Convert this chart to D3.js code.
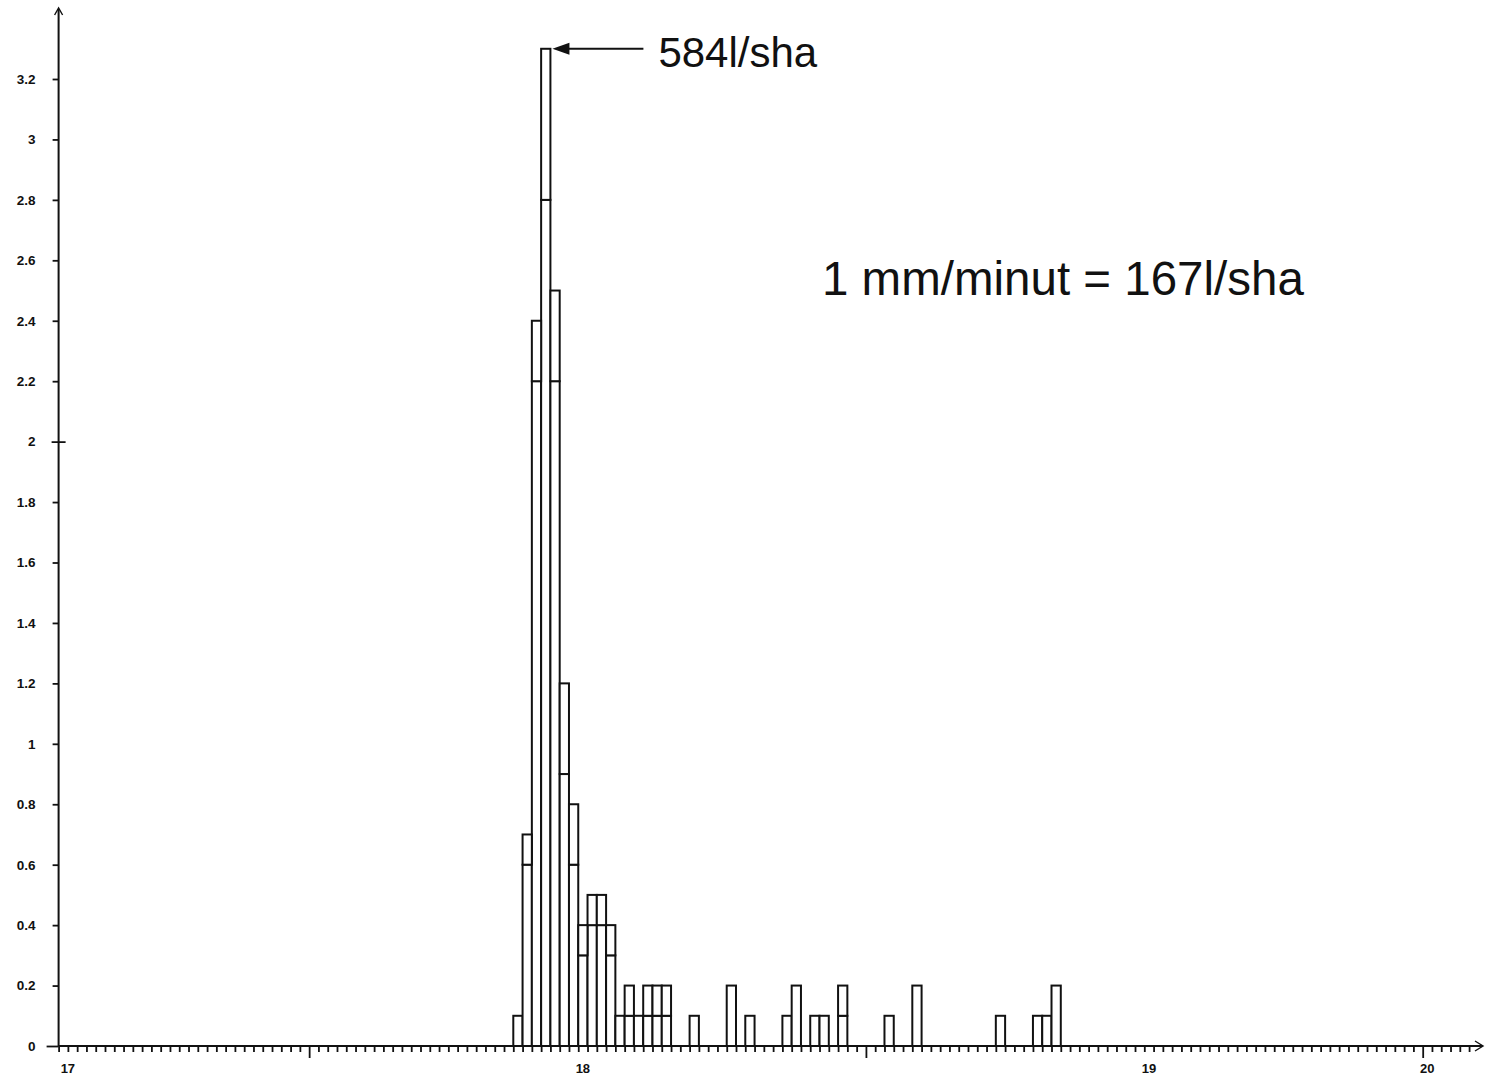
<!DOCTYPE html>
<html>
<head>
<meta charset="utf-8">
<script src="https://cdn.jsdelivr.net/npm/d3@7/dist/d3.min.js"></script>
<style>
  html, body { margin: 0; padding: 0; background: #ffffff; }
  svg { display: block; }
</style>
</head>
<body>
<script>
// Bin start, in minutes from the axis origin (1 bin = 1 minute)
const minutes = [49, 50, 51, 52, 53, 54, 55, 56, 57, 58, 59, 60, 61, 62, 63, 64, 65,
                 68, 72, 74, 78, 79, 81, 82, 84, 89, 92, 101, 105, 106, 107];
// Lower segment of each stacked bar (mm/minut)
const lower = [0.1, 0.6, 2.2, 2.8, 2.2, 0.9, 0.6, 0.3, 0.4, 0.4, 0.3, 0.1, 0.1, 0.1, 0.1, 0.1, 0.1,
               0.1, 0.2, 0.1, 0.1, 0.2, 0.1, 0.1, 0.1, 0.1, 0.2, 0.1, 0.1, 0.1, 0.2];
// Upper segment of each stacked bar (mm/minut)
const upper = [0, 0.1, 0.2, 0.5, 0.3, 0.3, 0.2, 0.1, 0.1, 0.1, 0.1, 0, 0.1, 0, 0.1, 0.1, 0.1,
               0, 0, 0, 0, 0, 0, 0, 0.1, 0, 0, 0, 0, 0, 0];

// Axis ticks
const yTicks = [0, 0.2, 0.4, 0.6, 0.8, 1, 1.2, 1.4, 1.6, 1.8, 2, 2.2, 2.4, 2.6, 2.8, 3, 3.2];
const xTickLabels = ["17", "18", "19", "20"];
const xTickAt = [1, 56.5, 117.5, 147.5];
const xLongTicks = [27, 87, 147];
const xMax = 153.5;

// Annotations
const peakLabel = "584l/sha";
const noteLabel = "1 mm/minut = 167l/sha";

const W = 1485, H = 1076;
const svg = d3.select("body").append("svg").attr("width", W).attr("height", H)
  .style("background", "#fff");

const x = d3.scaleLinear().domain([0, xMax]).range([58.6, 1483]);
const y = d3.scaleLinear().domain([0, 3.2]).range([1046, 79]);
const unit = x(1) - x(0);

const rows = minutes.map((m, i) => ({ m, lower: lower[i], upper: upper[i] }));
const stacked = d3.stack().keys(["lower", "upper"])(rows);

const ink = "#111";
const yTickFont = "bold 13.5px 'Liberation Sans', Arial, sans-serif";
const xTickFont = "bold 13px 'Liberation Sans', Arial, sans-serif";

// Bars: white cells with black outlines, one rect per stacked segment
const bars = svg.append("g");
stacked.forEach(layer => {
  bars.append("g").selectAll("rect")
    .data(layer.filter(d => d[1] - d[0] > 1e-9))
    .join("rect")
    .attr("x", d => x(d.data.m))
    .attr("width", unit)
    .attr("y", d => y(d[1]))
    .attr("height", d => y(d[0]) - y(d[1]))
    .attr("fill", "#fff")
    .attr("stroke", ink)
    .attr("stroke-width", 2);
});

// Y axis
const yAxis = svg.append("g").attr("transform", `translate(${x(0)},0)`)
  .call(d3.axisLeft(y).tickValues(yTicks).tickSize(6).tickSizeOuter(0)
    .tickFormat(d3.format(".1~f")));
yAxis.select(".domain").remove();
yAxis.selectAll(".tick line").attr("stroke", ink).attr("stroke-width", 1.8);
yAxis.selectAll(".tick text").attr("x", -23).style("font", yTickFont).attr("fill", ink);
// tick at 2 crosses the axis, tick at 0 runs further left
yAxis.selectAll(".tick").filter(d => d === 2).select("line").attr("x1", 7).attr("x2", -7);
yAxis.selectAll(".tick").filter(d => d === 0).select("line").attr("x2", -12);
svg.append("line").attr("x1", x(0)).attr("x2", x(0)).attr("y1", y(0)).attr("y2", 9)
  .attr("stroke", ink).attr("stroke-width", 2);
svg.append("path").attr("d", `M${x(0) - 4},${15} L${x(0)},${8} L${x(0) + 4},${15}`)
  .attr("fill", "none").attr("stroke", ink).attr("stroke-width", 1.4);

// X axis: minute ticks, long ticks, labels
const xAxis = svg.append("g").attr("transform", `translate(0,${y(0)})`)
  .call(d3.axisBottom(x).tickValues(d3.range(0, 153, 1)).tickSize(6).tickSizeOuter(0)
    .tickFormat(""));
xAxis.select(".domain").remove();
xAxis.selectAll(".tick line").attr("stroke", ink).attr("stroke-width", 1.8);
xAxis.selectAll(".tick").filter(d => xLongTicks.includes(d)).select("line").attr("y2", 12);

svg.append("line").attr("x1", x(0)).attr("x2", x(xMax) - 1).attr("y1", y(0)).attr("y2", y(0))
  .attr("stroke", ink).attr("stroke-width", 2);
svg.append("path")
  .attr("d", `M${x(xMax) - 8},${y(0) - 5} L${x(xMax)},${y(0)} L${x(xMax) - 8},${y(0) + 5}`)
  .attr("fill", "none").attr("stroke", ink).attr("stroke-width", 1.4);

svg.append("g").selectAll("text")
  .data(xTickLabels)
  .join("text")
  .attr("x", (d, i) => x(xTickAt[i]))
  .attr("y", y(0) + 27)
  .attr("text-anchor", "middle")
  .style("font", xTickFont)
  .attr("fill", ink)
  .text(d => d);

// Arrow pointing at the peak bar
const peakIdx = d3.maxIndex(rows, r => r.lower + r.upper);
const peak = rows[peakIdx];
const tipX = x(peak.m + 1) + 2;
const tipY = y(peak.lower + peak.upper);
svg.append("line").attr("x1", tipX + 12).attr("x2", tipX + 91).attr("y1", tipY).attr("y2", tipY)
  .attr("stroke", ink).attr("stroke-width", 2);
svg.append("path")
  .attr("d", `M${tipX},${tipY} L${tipX + 17},${tipY - 6} L${tipX + 17},${tipY + 6} Z`)
  .attr("fill", ink);
svg.append("text")
  .attr("x", tipX + 106).attr("y", tipY + 18)
  .style("font", "42px 'Liberation Sans', Arial, sans-serif")
  .attr("fill", ink)
  .text(peakLabel);

svg.append("text")
  .attr("x", 822).attr("y", 295)
  .style("font", "47.5px 'Liberation Sans', Arial, sans-serif")
  .attr("fill", ink)
  .text(noteLabel);
</script>
</body>
</html>
